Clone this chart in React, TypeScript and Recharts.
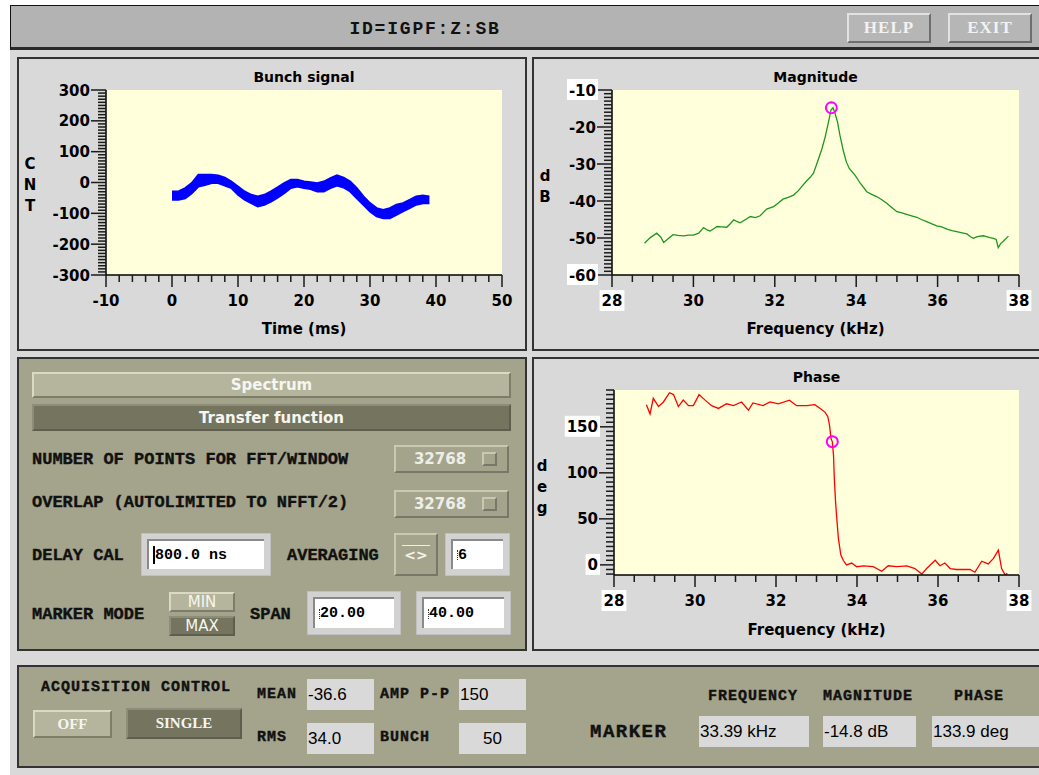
import React from "react";
import {
  Area,
  CartesianGrid,
  ComposedChart,
  Line,
  LineChart,
  ReferenceDot,
  XAxis,
  YAxis,
} from "recharts";

// bunch signal band (ms, upper and lower edge of the trace, counts)
const bunchTime = [0, 1, 2, 3, 4, 5, 6, 7, 8, 9, 10, 11, 12, 13, 14, 15, 16, 17, 18, 19, 20, 21, 22, 23, 24, 25, 26, 27, 28, 29, 30, 31, 32, 33, 34, 35, 36, 37, 38, 39];
const bunchHigh = [-29, -29, -18, -2, 25, 25, 25, 23, 16, 3, -13, -29, -40, -45, -40, -29, -16, -2, 9, 9, 3, 1, -2, 3, 14, 23, 16, 3, -18, -45, -67, -83, -89, -83, -72, -67, -56, -45, -42, -45];
const bunchLow = [-56, -56, -51, -35, -13, -8, -2, -2, -10, -18, -40, -56, -67, -78, -72, -62, -49, -35, -18, -13, -18, -21, -29, -29, -18, -10, -16, -29, -51, -72, -94, -110, -116, -116, -105, -94, -83, -72, -67, -67];

// magnitude (kHz, dB)
const magFreq = [28.8, 28.94, 29.1, 29.2, 29.27, 29.4, 29.5, 29.62, 29.76, 29.88, 30.0, 30.13, 30.25, 30.35, 30.41, 30.5, 30.58, 30.7, 30.82, 30.9, 30.99, 31.08, 31.15, 31.28, 31.4, 31.52, 31.64, 31.8, 31.97, 32.08, 32.2, 32.33, 32.46, 32.58, 32.66, 32.78, 32.87, 32.95, 33.05, 33.16, 33.24, 33.32, 33.38, 33.43, 33.48, 33.54, 33.6, 33.69, 33.76, 33.83, 33.97, 34.1, 34.26, 34.38, 34.5, 34.62, 34.75, 34.88, 35.0, 35.12, 35.24, 35.36, 35.49, 35.6, 35.73, 35.86, 35.98, 36.1, 36.23, 36.35, 36.47, 36.6, 36.72, 36.8, 36.88, 36.96, 37.04, 37.12, 37.2, 37.28, 37.37, 37.44, 37.49, 37.55, 37.62, 37.74];
const magDb = [-51.4, -49.9, -48.7, -49.8, -51.2, -50.0, -49.1, -49.3, -49.4, -49.2, -49.2, -48.7, -47.2, -47.9, -48.1, -47.5, -46.9, -47.0, -47.1, -46.2, -45.1, -45.6, -45.9, -45.0, -44.2, -44.5, -44.0, -42.2, -41.5, -40.6, -39.5, -39.0, -38.4, -37.2, -36.1, -34.6, -33.6, -32.5, -29.4, -25.8, -22.6, -18.6, -15.4, -14.8, -16.3, -18.6, -22.2, -26.7, -29.5, -31.2, -33.0, -35.2, -37.5, -38.2, -38.8, -39.6, -40.6, -41.8, -42.9, -43.2, -43.6, -44.0, -44.4, -45.0, -45.6, -46.2, -46.7, -47.0, -47.6, -48.0, -48.3, -48.6, -48.9, -49.6, -50.1, -49.7, -49.5, -49.4, -49.6, -49.9, -50.1, -50.4, -52.6, -51.5, -50.8, -49.5];

// phase (kHz, deg)
const phaseFreq = [28.8, 28.89, 28.97, 29.1, 29.22, 29.37, 29.47, 29.59, 29.71, 29.84, 29.96, 30.1, 30.25, 30.41, 30.58, 30.78, 30.95, 31.15, 31.32, 31.43, 31.68, 31.85, 32.06, 32.33, 32.51, 32.76, 32.96, 33.09, 33.21, 33.28, 33.32, 33.36, 33.39, 33.42, 33.44, 33.47, 33.5, 33.54, 33.6, 33.66, 33.74, 33.87, 33.99, 34.16, 34.4, 34.61, 34.77, 34.98, 35.23, 35.43, 35.6, 35.72, 35.93, 36.05, 36.17, 36.3, 36.46, 36.62, 36.79, 36.91, 37.08, 37.24, 37.37, 37.49, 37.57, 37.66, 37.71];
const phaseDeg = [174, 164, 181, 172, 177, 187, 185, 172, 179, 173, 173, 185, 179, 173, 170, 175, 173, 177, 168, 176, 173, 177, 175, 179, 173, 173, 174, 170, 166, 161, 152, 137, 134, 119, 94, 69, 51, 29, 11, 5, 0, 2, -2, -1, -2, -7, -1, -2, -1, -4, -10, -4, 5, -1, 2, -4, -5, -5, -5, -8, 4, 1, 7, 16, -4, -11, -9];

const marker = { freq: 33.39, mag: -14.8, phase: 133.9 };

const bunchYMajor = [-300, -200, -100, 0, 100, 200, 300];
const bunchXMajor = [-10, 0, 10, 20, 30, 40, 50];
const magYMajor = [-60, -50, -40, -30, -20, -10];
const freqMajor = [28, 30, 32, 34, 36, 38];
const phaseYMajor = [0, 50, 100, 150];

const bunchData = bunchTime.map((t, i) => ({ t, band: [bunchLow[i], bunchHigh[i]] }));
const magData = magFreq.map((f, i) => ({ f, db: magDb[i] }));
const phaseData = phaseFreq.map((f, i) => ({ f, deg: phaseDeg[i] }));

const range = (a: number, b: number, step: number) => {
  const out: number[] = [];
  for (let v = a; v <= b + 1e-9; v += step) out.push(Math.round(v * 1000) / 1000);
  return out;
};

const SANS = "'DejaVu Sans', sans-serif";
const MONO = "'Liberation Mono', monospace";
const SERIF = "'Liberation Serif', serif";
const OLIVE = "#a4a48c";
const OLIVE_DARK = "#74745f";
const OLIVE_LIGHT = "#b5b59d";
const PAGE = "#d9d9d9";
const PLOT = "#ffffdc";
const TICK = "#1a1a1a";

const near = (a: number, b: number) => Math.abs(a - b) < 1e-6;
const labelWidth = (s: string) =>
  [...s].reduce((w, c) => w + (c === "-" ? 6.2 : c === "." ? 5.7 : 10.4), 0);

const xTick = (majors: number[], boxed: number[]) => (props: any) => {
  const { x, y, payload } = props;
  const v = payload.value;
  const major = majors.some((m) => near(m, v));
  const s = String(v);
  const w = labelWidth(s);
  return (
    <g>
      <line x1={x} y1={y} x2={x} y2={y + (major ? 12 : 7)} stroke={TICK} strokeWidth={1.5} />
      {major && boxed.some((b) => near(b, v)) && (
        <rect x={x - w / 2 - 2} y={y + 15} width={w + 4} height={21} fill="#fff" />
      )}
      {major && (
        <text x={x} y={y + 31} textAnchor="middle" fontFamily={SANS} fontWeight="bold" fontSize={15} fill="#000">
          {s}
        </text>
      )}
    </g>
  );
};

const yTick = (majors: number[], boxed: number[]) => (props: any) => {
  const { x, y, payload } = props;
  const v = payload.value;
  const major = majors.some((m) => near(m, v));
  const s = String(v);
  const w = labelWidth(s);
  return (
    <g>
      <line x1={x - (major ? 15 : 8)} y1={y} x2={x} y2={y} stroke={TICK} strokeWidth={1.5} />
      {major && boxed.some((b) => near(b, v)) && (
        <rect x={x - 16 - w - 2} y={y - 11} width={w + 4} height={21} fill="#fff" />
      )}
      {major && (
        <text x={x - 16} y={y + 5.5} textAnchor="end" fontFamily={SANS} fontWeight="bold" fontSize={15} fill="#000">
          {s}
        </text>
      )}
    </g>
  );
};

const abs = (left: number, top: number, extra: React.CSSProperties = {}): React.CSSProperties => ({
  position: "absolute",
  left,
  top,
  ...extra,
});

const raised = (bg: string, light: string, dark: string): React.CSSProperties => ({
  background: bg,
  borderStyle: "solid",
  borderWidth: 2,
  borderColor: `${light} ${dark} ${dark} ${light}`,
  boxSizing: "border-box",
});

function Panel({ left, top, width, height, bg }: { left: number; top: number; width: number; height: number; bg: string }) {
  return <div style={abs(left, top, { width, height, background: bg, border: "2px solid #333", boxSizing: "border-box" })} />;
}

function Label({ left, cy, text, size = 17, font = MONO, spacing = 0 }: { left: number; cy: number; text: string; size?: number; font?: string; spacing?: number }) {
  return (
    <div style={abs(left, cy - 11, { height: 22, lineHeight: "22px", fontFamily: font, fontWeight: "bold", fontSize: size, letterSpacing: spacing, color: "#111", whiteSpace: "nowrap", WebkitTextStroke: "0.4px #111" })}>
      {text}
    </div>
  );
}

function Stack({ cx, top, letters }: { cx: number; top: number; letters: string[] }) {
  return (
    <div style={abs(cx - 10, top, { width: 20, textAlign: "center", fontFamily: SANS, fontWeight: "bold", fontSize: 15, lineHeight: "21px", color: "#000" })}>
      {letters.map((l) => (
        <div key={l}>{l}</div>
      ))}
    </div>
  );
}

function Centered({ left, width, cy, text, size = 14 }: { left: number; width: number; cy: number; text: string; size?: number }) {
  return (
    <div style={abs(left, cy - 10, { width, height: 20, lineHeight: "20px", textAlign: "center", fontFamily: SANS, fontWeight: "bold", fontSize: size, color: "#000" })}>
      {text}
    </div>
  );
}

function Field({ left, top, width, height, text, beam }: { left: number; top: number; width: number; height: number; text: string; beam?: boolean }) {
  return (
    <div style={abs(left, top, { width, height, background: "#d2d2d2", border: "1px solid #c0c0c0", boxSizing: "border-box" })}>
      <div
        style={{
          position: "absolute",
          left: 5,
          top: 5,
          right: 6,
          bottom: 6,
          background: "#fff",
          borderTop: "2px solid #8a8a8a",
          borderLeft: "2px solid #8a8a8a",
          display: "flex",
          alignItems: "center",
          paddingLeft: 4,
          fontFamily: MONO,
          fontWeight: "bold",
          fontSize: 15,
          color: "#000",
        }}
      >
        <span
          style={{
            display: "inline-block",
            width: 1,
            height: beam ? 18 : 10,
            marginRight: -1,
            borderLeft: beam ? "2px solid #000" : "1px dotted #333",
          }}
        />
        {text}
      </div>
    </div>
  );
}

function Dropdown({ top }: { top: number }) {
  return (
    <div style={abs(394, top, { width: 115, height: 28, ...raised(OLIVE, "#c9c9b3", "#78786a") })}>
      <div style={abs(0, 0, { width: 88, height: 24, lineHeight: "24px", textAlign: "center", fontFamily: SANS, fontWeight: "bold", fontSize: 15, color: "#eeeee8" })}>32768</div>
      <div style={abs(86, 5, { width: 15, height: 14, ...raised(OLIVE, "#c9c9b3", "#78786a") })} />
    </div>
  );
}

function Btn({ left, top, width, height, text, dark, font = SANS, size = 15, weight = "bold" }: { left: number; top: number; width: number; height: number; text: string; dark?: boolean; font?: string; size?: number; weight?: string }) {
  return (
    <div
      style={abs(left, top, {
        width,
        height,
        ...(dark ? raised(OLIVE_DARK, "#8d8d7a", "#5e5e4e") : raised(OLIVE_LIGHT, "#dadac4", "#7d7d6a")),
        display: "flex",
        alignItems: "center",
        justifyContent: "center",
        fontFamily: font,
        fontWeight: weight as any,
        fontSize: size,
        color: "#f6f6f0",
      })}
    >
      {text}
    </div>
  );
}

function GrayBox({ left, top, width, text, center }: { left: number; top: number; width: number; text: string; center?: boolean }) {
  return (
    <div
      style={abs(left, top, {
        width,
        height: 31,
        background: "#d9d9d9",
        lineHeight: "31px",
        paddingLeft: center ? 0 : 1,
        textAlign: center ? "center" : "left",
        fontFamily: "'Liberation Sans', sans-serif",
        fontSize: 17,
        color: "#000",
        boxSizing: "border-box",
      })}
    >
      {text}
    </div>
  );
}

export default function App() {
  return (
    <div style={abs(0, 0, { width: 1039, height: 775, background: "#fff", overflow: "hidden" })}>
      <div style={abs(10, 5, { width: 1029, height: 770, background: PAGE })} />

      {/* top bar */}
      <div style={abs(10, 5, { width: 1029, height: 45, background: "#b3b3b3", borderTop: "1px solid #111", borderLeft: "1px solid #111", borderBottom: "3px solid #2a2a2a", boxSizing: "border-box" })} />
      <div style={abs(325, 18, { width: 200, textAlign: "center", fontFamily: MONO, fontWeight: "bold", fontSize: 18, letterSpacing: 1.8, lineHeight: "22px", color: "#111" })}>ID=IGPF:Z:SB</div>
      {[
        { left: 847, text: "HELP" },
        { left: 948, text: "EXIT" },
      ].map((b) => (
        <div key={b.text} style={abs(b.left, 13, { width: 84, height: 30, ...raised("#b6b6b6", "#e2e2e2", "#6e6e6e"), display: "flex", alignItems: "center", justifyContent: "center", fontFamily: SERIF, fontWeight: "bold", fontSize: 17, letterSpacing: 1, color: "#f2f2f2" })}>
          {b.text}
        </div>
      ))}

      {/* panels */}
      <Panel left={17} top={57} width={510} height={294} bg={PAGE} />
      <Panel left={532} top={57} width={510} height={294} bg={PAGE} />
      <Panel left={17} top={357} width={510} height={294} bg={OLIVE} />
      <Panel left={532} top={357} width={510} height={294} bg={PAGE} />
      <Panel left={17} top={665} width={1025} height={103} bg={OLIVE} />

      {/* bunch signal */}
      <div style={abs(17, 57, { width: 510, height: 294 })}>
        <ComposedChart width={510} height={294} data={bunchData} margin={{ top: 33, right: 25, bottom: 0, left: 0 }}>
          <CartesianGrid horizontal={false} vertical={false} fill={PLOT} />
          <XAxis dataKey="t" type="number" domain={[-10, 50]} ticks={range(-10, 50, 2)} interval={0} height={76} tickSize={0} tickMargin={0} tickLine={false} axisLine={{ stroke: "#000", strokeWidth: 1.5 }} tick={xTick(bunchXMajor, [])} />
          <YAxis type="number" domain={[-300, 300]} ticks={range(-300, 300, 10)} interval={0} width={89} tickSize={0} tickMargin={0} tickLine={false} axisLine={{ stroke: "#000", strokeWidth: 1.5 }} tick={yTick(bunchYMajor, [])} />
          <Area type="linear" dataKey="band" stroke="#0000ff" strokeWidth={2} fill="#0000ff" fillOpacity={1} isAnimationActive={false} />
        </ComposedChart>
      </div>
      <Centered left={106} width={396} cy={77} text="Bunch signal" />
      <Centered left={106} width={396} cy={329} text="Time (ms)" size={15} />
      <Stack cx={30} top={154} letters={["C", "N", "T"]} />

      {/* magnitude */}
      <div style={abs(532, 57, { width: 507, height: 294 })}>
        <LineChart width={507} height={294} data={magData} margin={{ top: 33, right: 20, bottom: 0, left: 0 }}>
          <CartesianGrid horizontal={false} vertical={false} fill={PLOT} />
          <XAxis dataKey="f" type="number" domain={[28, 38]} ticks={range(28, 38, 0.5)} interval={0} height={76} tickSize={0} tickMargin={0} tickLine={false} axisLine={{ stroke: "#000", strokeWidth: 1.5 }} tick={xTick(freqMajor, [28, 38])} />
          <YAxis type="number" domain={[-60, -10]} ticks={range(-60, -10, 1)} interval={0} width={80} tickSize={0} tickMargin={0} tickLine={false} axisLine={{ stroke: "#000", strokeWidth: 1.5 }} tick={yTick(magYMajor, [-10, -60])} />
          <Line type="linear" dataKey="db" stroke="#1e961e" strokeWidth={1.3} dot={false} isAnimationActive={false} />
          <ReferenceDot x={marker.freq} y={marker.mag} r={5.5} fill="none" stroke="#ff00ff" strokeWidth={2} />
        </LineChart>
      </div>
      <Centered left={612} width={407} cy={77} text="Magnitude" />
      <Centered left={612} width={407} cy={329} text="Frequency (kHz)" size={15} />
      <Stack cx={545} top={166} letters={["d", "B"]} />

      {/* phase */}
      <div style={abs(532, 357, { width: 507, height: 294 })}>
        <LineChart width={507} height={294} data={phaseData} margin={{ top: 33, right: 20, bottom: 0, left: 0 }}>
          <CartesianGrid horizontal={false} vertical={false} fill={PLOT} />
          <XAxis dataKey="f" type="number" domain={[28, 38]} ticks={range(28, 38, 0.5)} interval={0} height={76} tickSize={0} tickMargin={0} tickLine={false} axisLine={{ stroke: "#000", strokeWidth: 1.5 }} tick={xTick(freqMajor, [28, 38])} />
          <YAxis type="number" domain={[-11, 190]} allowDataOverflow ticks={range(-10, 190, 5)} interval={0} width={82} tickSize={0} tickMargin={0} tickLine={false} axisLine={{ stroke: "#000", strokeWidth: 1.5 }} tick={yTick(phaseYMajor, [0, 150])} />
          <Line type="linear" dataKey="deg" stroke="#ff0000" strokeWidth={1.3} dot={false} isAnimationActive={false} />
          <ReferenceDot x={marker.freq} y={marker.phase} r={5.5} fill="none" stroke="#ff00ff" strokeWidth={2} />
        </LineChart>
      </div>
      <Centered left={614} width={405} cy={377} text="Phase" />
      <Centered left={614} width={405} cy={630} text="Frequency (kHz)" size={15} />
      <Stack cx={542} top={456} letters={["d", "e", "g"]} />

      {/* analysis controls */}
      <Btn left={32} top={372} width={479} height={26} text="Spectrum" />
      <Btn left={32} top={404} width={479} height={27} text="Transfer function" dark />
      <Label left={32} cy={460} text="NUMBER OF POINTS FOR FFT/WINDOW" />
      <Dropdown top={445} />
      <Label left={32} cy={503} text="OVERLAP (AUTOLIMITED TO NFFT/2)" />
      <Dropdown top={490} />
      <Label left={32} cy={556} text="DELAY CAL" />
      <Field left={141} top={533} width={130} height={43} text="800.0 ns" beam />
      <Label left={287} cy={556} text="AVERAGING" />
      <div style={abs(394, 533, { width: 44, height: 43, ...raised(OLIVE, "#c9c9b3", "#78786a") })}>
        <div style={abs(6, 10, { width: 28, height: 1, background: "#eeeee8" })} />
        <div style={abs(0, 12, { width: 40, textAlign: "center", fontFamily: SANS, fontWeight: "bold", fontSize: 14, color: "#f6f6f0" })}>&lt;&gt;</div>
      </div>
      <Field left={445} top={533} width={65} height={43} text="6" />
      <Label left={32} cy={615} text="MARKER MODE" />
      <Btn left={169} top={592} width={66} height={20} text="MIN" weight="normal" />
      <Btn left={169} top={616} width={66} height={20} text="MAX" weight="normal" dark />
      <Label left={250} cy={615} text="SPAN" />
      <Field left={307} top={591} width={94} height={44} text="20.00" />
      <Field left={416} top={591} width={95} height={44} text="40.00" />

      {/* acquisition / marker readout */}
      <Label left={41} cy={688} text="ACQUISITION CONTROL" size={15} spacing={1} />
      <Btn left={33} top={710} width={79} height={28} text="OFF" font={SERIF} size={15} />
      <Btn left={126} top={708} width={116} height={31} text="SINGLE" font={SERIF} size={15} dark />
      <Label left={257} cy={695} text="MEAN" size={15} spacing={1} />
      <GrayBox left={307} top={679} width={67} text="-36.6" />
      <Label left={380} cy={695} text="AMP P-P" size={15} spacing={1} />
      <GrayBox left={459} top={679} width={67} text="150" />
      <Label left={257} cy={738} text="RMS" size={15} spacing={1} />
      <GrayBox left={307} top={723} width={67} text="34.0" />
      <Label left={380} cy={738} text="BUNCH" size={15} spacing={1} />
      <GrayBox left={459} top={723} width={67} text="50" center />
      <Label left={590} cy={732} text="MARKER" size={19} spacing={1.5} />
      <Label left={708} cy={697} text="FREQUENCY" size={15} spacing={1} />
      <Label left={823} cy={697} text="MAGNITUDE" size={15} spacing={1} />
      <Label left={954} cy={697} text="PHASE" size={15} spacing={1} />
      <GrayBox left={699} top={716} width={110} text="33.39 kHz" />
      <GrayBox left={823} top={716} width={93} text="-14.8 dB" />
      <GrayBox left={932} top={716} width={107} text="133.9 deg" />
    </div>
  );
}
